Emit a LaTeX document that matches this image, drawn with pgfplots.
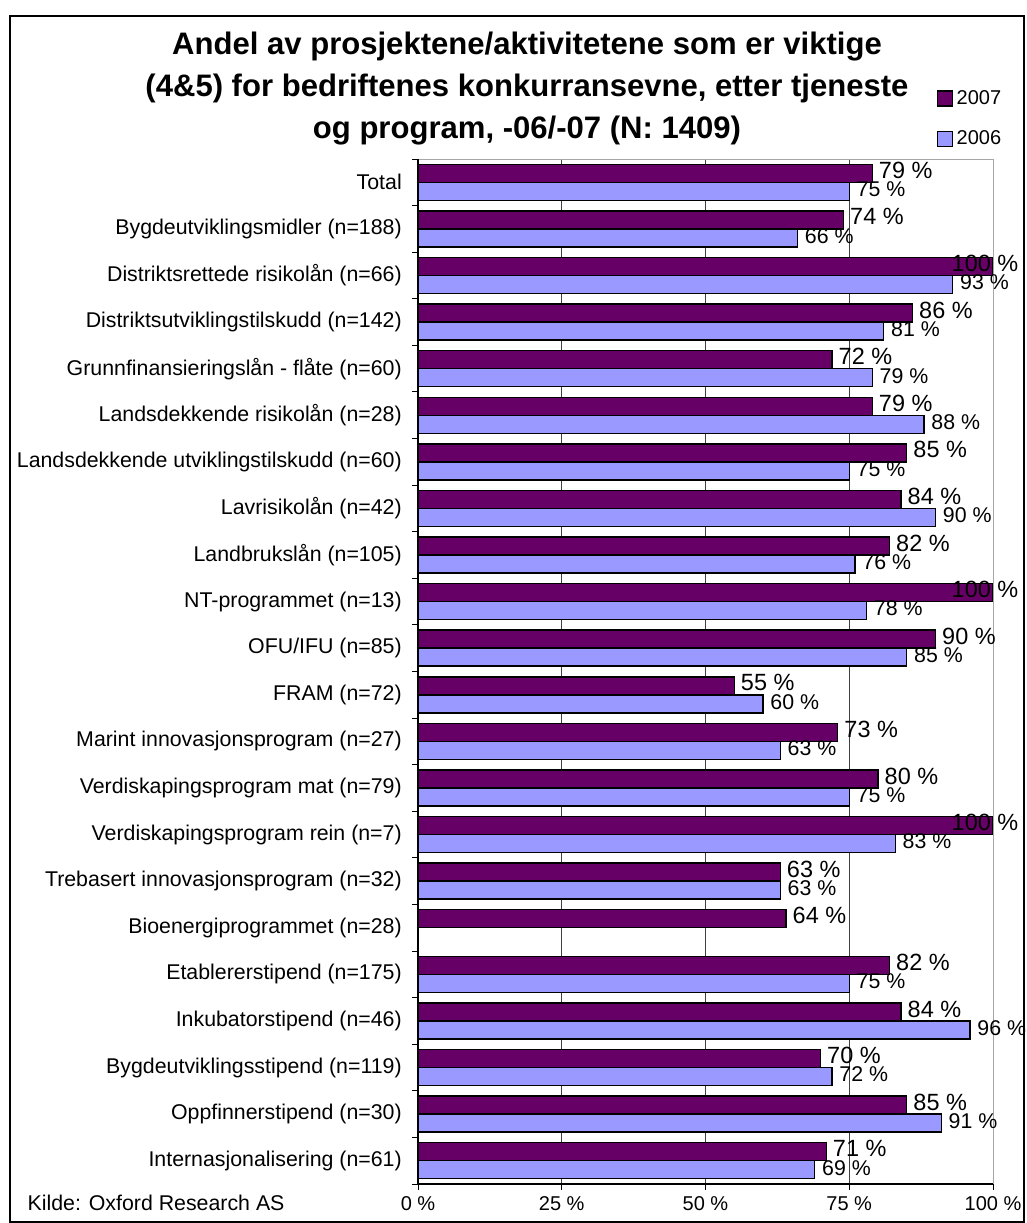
\documentclass[border=0pt]{standalone}
\usepackage{pgfplots}
\pgfplotsset{compat=1.18}
\usepackage{pgfplotstable}
\usepackage{fontspec}
\setmainfont{Liberation Sans}
\definecolor{c07}{HTML}{660066}
\definecolor{c06}{HTML}{9999FF}

% y = 21 - row index (Total at top); s = 1 moves the label left (100 % bars)
\pgfplotstableread{
y v s
21 79 0
20 74 0
19 100 1
18 86 0
17 72 0
16 79 0
15 85 0
14 84 0
13 82 0
12 100 1
11 90 0
10 55 0
9 73 0
8 80 0
7 100 1
6 63 0
5 64 0
4 82 0
3 84 0
2 70 0
1 85 0
0 71 0
}\dataA

\pgfplotstableread{
y v s
21 75 0
20 66 0
19 93 0
18 81 0
17 79 0
16 88 0
15 75 0
14 90 0
13 76 0
12 78 0
11 85 0
10 60 0
9 63 0
8 75 0
7 83 0
6 63 0
4 75 0
3 96 0
2 72 0
1 91 0
0 69 0
}\dataB

\begin{document}
\begin{tikzpicture}
\path (0,0) rectangle (768.75pt,-917.25pt);
\draw[line width=1pt] (7.5pt,-12pt) rectangle (768pt,-916.5pt);

\node[anchor=north, align=center, inner sep=0pt, font=\bfseries\fontsize{23.3}{31.5}\selectfont]
  at (395.25pt,-24pt) {Andel av prosjektene/aktivitetene som er viktige\\(4\&5) for bedriftenes konkurransevne, etter tjeneste\\og program, -06/-07 (N: 1409)};

\node[anchor=west, inner sep=0pt, font=\fontsize{16}{19}\selectfont] at (20.5pt,-902.25pt) {Kilde: Oxford Research AS};

\begin{axis}[
  at={(313.5pt,-888pt)}, anchor=south west,
  scale only axis, width=431.25pt, height=768.75pt,
  xmin=0, xmax=100, ymin=-0.5, ymax=21.5,
  clip=false,
  /pgf/number format/assume math mode=true,
  axis line style={draw=none},
  tick align=outside, major tick length=4.5pt,
  tick style={black, line width=0.75pt},
  xtick pos=bottom, ytick pos=left,
  xtick={0,25,50,75,100},
  xticklabels={0 \%,25 \%,50 \%,75 \%,100 \%},
  xticklabel style={font=\fontsize{15}{18}\selectfont, yshift=-1.5pt},
  ytick={-0.5,0.5,...,21.5},
  yticklabels={},
  extra y ticks={0,1,...,21},
  extra y tick style={major tick length=0pt, tick style={draw=none}},
  extra y tick labels={{Internasjonalisering (n=61)},{Oppfinnerstipend (n=30)},{Bygdeutviklingsstipend (n=119)},{Inkubatorstipend (n=46)},{Etablererstipend (n=175)},{Bioenergiprogrammet (n=28)},{Trebasert innovasjonsprogram (n=32)},{Verdiskapingsprogram rein (n=7)},{Verdiskapingsprogram mat (n=79)},{Marint innovasjonsprogram (n=27)},{FRAM (n=72)},{OFU/IFU (n=85)},{NT-programmet (n=13)},{Landbrukslån (n=105)},{Lavrisikolån (n=42)},{Landsdekkende utviklingstilskudd (n=60)},{Landsdekkende risikolån (n=28)},{Grunnfinansieringslån - flåte (n=60)},{Distriktsutviklingstilskudd (n=142)},{Distriktsrettede risikolån (n=66)},{Bygdeutviklingsmidler (n=188)},{Total}},
  yticklabel style={font=\fontsize{16}{19}\selectfont, inner sep=0pt, xshift=-12pt},
  xmajorgrids, grid style={black!75, line width=0.75pt},
  legend style={at={(axis cs:90.22,22.98)}, anchor=north west, draw=none, fill=none,
    inner sep=0pt, row sep=18pt, font=\fontsize{15}{18}\selectfont,
    nodes={inner ysep=0pt, inner xsep=2.5pt}},
  legend cell align=left,
  legend image code/.code={\draw[#1, draw=black, line width=1pt] (0pt,-5.6pt) rectangle (11.25pt,5.6pt);},
]
\addplot[xbar, bar width=13.5pt, bar shift=6.75pt, fill=c07, draw=black, line width=1.1pt,
  point meta=x,
  nodes near coords={\pgfmathprintnumber{\pgfplotspointmeta}~\%},
  visualization depends on={\thisrow{s} \as \sflag},
  every node near coord/.append style={font=\fontsize{17.6}{20}\selectfont, anchor=west, inner sep=0pt,
     xshift={(4.5-36*\sflag)*1pt}, yshift=9pt, text=black}
] table[x=v, y=y] {\dataA};
\addplot[xbar, bar width=13.5pt, bar shift=-6.75pt, fill=c06, draw=black, line width=1.1pt,
  point meta=x,
  nodes near coords={\pgfmathprintnumber{\pgfplotspointmeta}~\%},
  every node near coord/.append style={font=\fontsize{16}{18}\selectfont, anchor=west, inner sep=0pt,
     xshift=5pt, yshift=-5.25pt, text=black}
] table[x=v, y=y] {\dataB};
\legend{2007,2006}
\draw[gray!70, line width=0.75pt] (axis cs:0,21.5) -- (axis cs:100,21.5) -- (axis cs:100,-0.5);
\draw[black, line width=0.9pt] (axis cs:0,21.5) -- (axis cs:0,-0.5) -- (axis cs:100,-0.5);
\end{axis}
\end{tikzpicture}
\end{document}
